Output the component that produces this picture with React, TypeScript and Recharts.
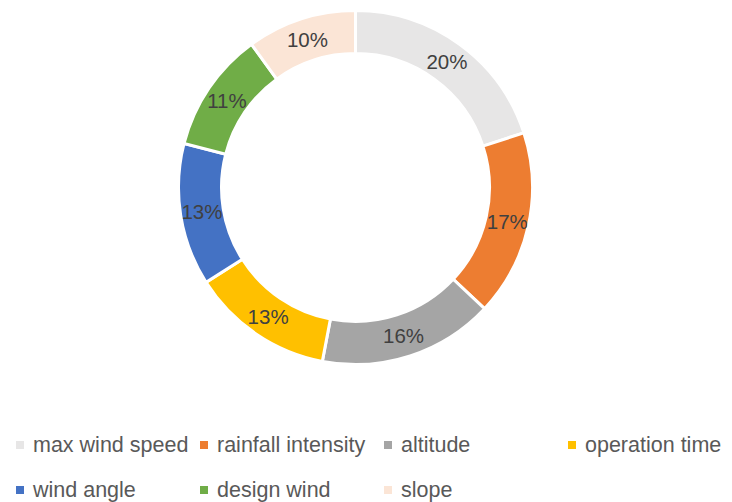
import React from 'react';
import { PieChart, Pie, Cell, Legend } from 'recharts';

const factors = ['max wind speed', 'rainfall intensity', 'altitude', 'operation time', 'wind angle', 'design wind', 'slope'];
const shares = [20, 17, 16, 13, 13, 11, 10];
const colors = ['#E7E6E6', '#ED7D31', '#A5A5A5', '#FFC000', '#4472C4', '#70AD47', '#FBE5D6'];

const data = factors.map((name, i) => ({ name, value: shares[i] }));

const RADIAN = Math.PI / 180;
const FONT = '"Liberation Sans", Arial, sans-serif';

const renderLabel = (props: any) => {
    const { cx, cy, midAngle, innerRadius, outerRadius, value } = props;
    const r = (innerRadius + outerRadius) / 2;
    const x = cx + r * Math.cos(-midAngle * RADIAN);
    const y = cy + r * Math.sin(-midAngle * RADIAN);
    return (
        <text x={x} y={y} fill="#404040" fontSize={20.5} fontFamily={FONT} textAnchor="middle" dominantBaseline="central">
            {`${value}%`}
        </text>
    );
};

const renderLegend = () => (
    <div style={{ display: 'grid', gridTemplateColumns: 'repeat(4, 184px)', rowGap: 21, paddingLeft: 16, fontFamily: FONT, fontSize: 21.5, color: '#595959' }}>
        {factors.map((name, i) => (
            <div key={name} style={{ display: 'flex', alignItems: 'center', height: 24, whiteSpace: 'nowrap' }}>
                <span style={{ display: 'inline-block', width: 8, height: 8, background: colors[i], marginRight: 9 }} />
                {name}
            </div>
        ))}
    </div>
);

const App: React.FC = () => {
    return (
        <div style={{ position: 'absolute', left: 0, top: 0, background: '#fff' }}>
            <PieChart width={732} height={502} margin={{ top: 0, right: 0, bottom: 0, left: 0 }}>
                <Pie
                    data={data}
                    dataKey="value"
                    cx={355.5}
                    cy={187.5}
                    innerRadius={134}
                    outerRadius={177}
                    startAngle={90}
                    endAngle={-270}
                    stroke="#fff"
                    strokeWidth={3}
                    label={renderLabel}
                    labelLine={false}
                    isAnimationActive={false}
                >
                    {data.map((d, i) => (
                        <Cell key={d.name} fill={colors[i]} />
                    ))}
                </Pie>
                <Legend content={renderLegend} wrapperStyle={{ left: 0, top: 433, width: 732 }} />
            </PieChart>
        </div>
    );
};

export default App;
